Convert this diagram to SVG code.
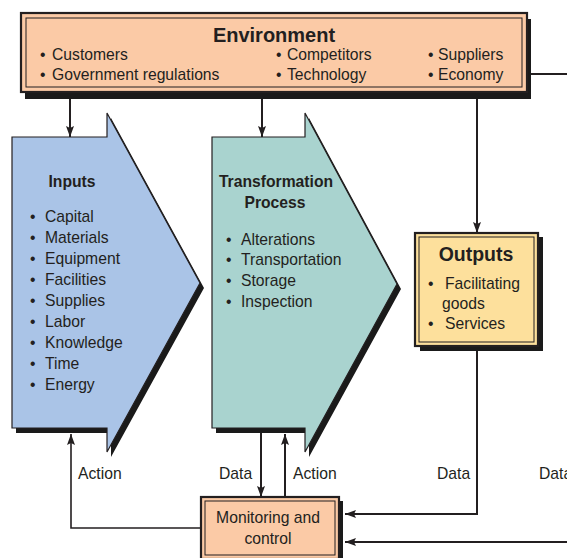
<svg xmlns="http://www.w3.org/2000/svg" width="567" height="558" viewBox="0 0 567 558">
<defs>
<style>
text{font-family:"Liberation Sans",Arial,sans-serif;fill:#231f20}
.t{font-size:15.7px}
.b{font-weight:bold}
.sh{fill:#1a1a1a}
.outer{stroke:#231f20;stroke-width:2.2}
.inner{fill:none;stroke:#231f20;stroke-width:1}
.c{fill:none;stroke:#231f20;stroke-width:2}
.peach{fill:#fbcaa6}
</style>
<marker id="ah" markerUnits="userSpaceOnUse" markerWidth="12" markerHeight="8" refX="11" refY="4" orient="auto">
<path d="M0,0 L11,4 L0,8 L2,4 z" fill="#231f20"/>
</marker>
</defs>
<rect width="567" height="558" fill="#ffffff"/>

<g id="connectors">
<line class="c" x1="70" y1="98" x2="70" y2="137" marker-end="url(#ah)"/>
<line class="c" x1="262" y1="98" x2="262" y2="137" marker-end="url(#ah)"/>
<line class="c" x1="477" y1="98" x2="477" y2="233" marker-end="url(#ah)"/>
<line class="c" x1="531" y1="74" x2="567" y2="74"/>
<polyline class="c" points="477,350 477,514 345,514" marker-end="url(#ah)"/>
<line class="c" x1="567" y1="542" x2="345" y2="542" marker-end="url(#ah)"/>
<line class="c" x1="261" y1="432" x2="261" y2="497" marker-end="url(#ah)"/>
<line class="c" x1="285" y1="497" x2="285" y2="434" marker-end="url(#ah)"/>
<polyline class="c" style="stroke-width:1.6" points="201,528 71,528 71,434" marker-end="url(#ah)"/>
<text class="t" x="78" y="479">Action</text>
<text class="t" x="219" y="479">Data</text>
<text class="t" x="293" y="479">Action</text>
<text class="t" x="437" y="479">Data</text>
<text class="t" x="539" y="479">Data</text>
</g>

<g id="environment">
<rect class="sh" x="25" y="19" width="506" height="80"/>
<rect class="outer peach" x="21" y="13" width="506" height="79"/>
<rect class="inner" x="26" y="18" width="496" height="69"/>
<text class="b" x="274" y="42" text-anchor="middle" font-size="20">Environment</text>
<g class="t">
<text x="40" y="60">•</text><text x="52" y="60">Customers</text>
<text x="40" y="80">•</text><text x="52" y="80">Government regulations</text>
<text x="276" y="60">•</text><text x="287" y="60">Competitors</text>
<text x="276" y="80">•</text><text x="287" y="80">Technology</text>
<text x="428" y="60">•</text><text x="438" y="60">Suppliers</text>
<text x="428" y="80">•</text><text x="438" y="80">Economy</text>
</g>
</g>

<g id="inputs">
<polygon class="sh" transform="translate(4,5)" points="12,137 107,137 107,113 200,283 107,452 107,428 12,428"/>
<polygon fill="#aac4e7" stroke="#231f20" stroke-width="1.2" points="12,137 107,137 107,113 200,283 107,452 107,428 12,428"/>
<text class="t b" x="72" y="187" text-anchor="middle">Inputs</text>
<g class="t">
<text x="30" y="221.5">•</text><text x="45" y="221.5">Capital</text>
<text x="30" y="242.5">•</text><text x="45" y="242.5">Materials</text>
<text x="30" y="263.5">•</text><text x="45" y="263.5">Equipment</text>
<text x="30" y="284.5">•</text><text x="45" y="284.5">Facilities</text>
<text x="30" y="305.5">•</text><text x="45" y="305.5">Supplies</text>
<text x="30" y="326.5">•</text><text x="45" y="326.5">Labor</text>
<text x="30" y="347.5">•</text><text x="45" y="347.5">Knowledge</text>
<text x="30" y="368.5">•</text><text x="45" y="368.5">Time</text>
<text x="30" y="389.5">•</text><text x="45" y="389.5">Energy</text>
</g>
</g>

<g id="transformation">
<polygon class="sh" transform="translate(4,5)" points="212,137 305,137 305,113 397,284 305,452 305,428 212,428"/>
<polygon fill="#a9d3cf" stroke="#231f20" stroke-width="1.2" points="212,137 305,137 305,113 397,284 305,452 305,428 212,428"/>
<text class="t b" x="276" y="187" text-anchor="middle">Transformation</text>
<text class="t b" x="275" y="208" text-anchor="middle">Process</text>
<g class="t">
<text x="226" y="244.5">•</text><text x="241" y="244.5">Alterations</text>
<text x="226" y="264.5">•</text><text x="241" y="264.5">Transportation</text>
<text x="226" y="285.5">•</text><text x="241" y="285.5">Storage</text>
<text x="226" y="306.5">•</text><text x="241" y="306.5">Inspection</text>
</g>
</g>

<g id="outputs">
<rect class="sh" x="420" y="237" width="123" height="114"/>
<rect class="outer" fill="#fde09c" x="415" y="233" width="123" height="113"/>
<rect class="inner" x="419" y="237" width="115" height="105"/>
<text class="b" x="476" y="261" text-anchor="middle" font-size="19.5">Outputs</text>
<g class="t">
<text x="428" y="289">•</text><text x="445" y="289">Facilitating</text>
<text x="442" y="309">goods</text>
<text x="428" y="329">•</text><text x="445" y="329">Services</text>
</g>
</g>

<g id="monitoring">
<rect class="sh" x="205" y="501" width="138" height="62"/>
<rect class="outer peach" x="201" y="497" width="138" height="62"/>
<rect class="inner" x="205" y="501" width="130" height="54"/>
<text class="t" x="268" y="523" text-anchor="middle">Monitoring and</text>
<text class="t" x="268" y="544" text-anchor="middle">control</text>
</g>
</svg>
